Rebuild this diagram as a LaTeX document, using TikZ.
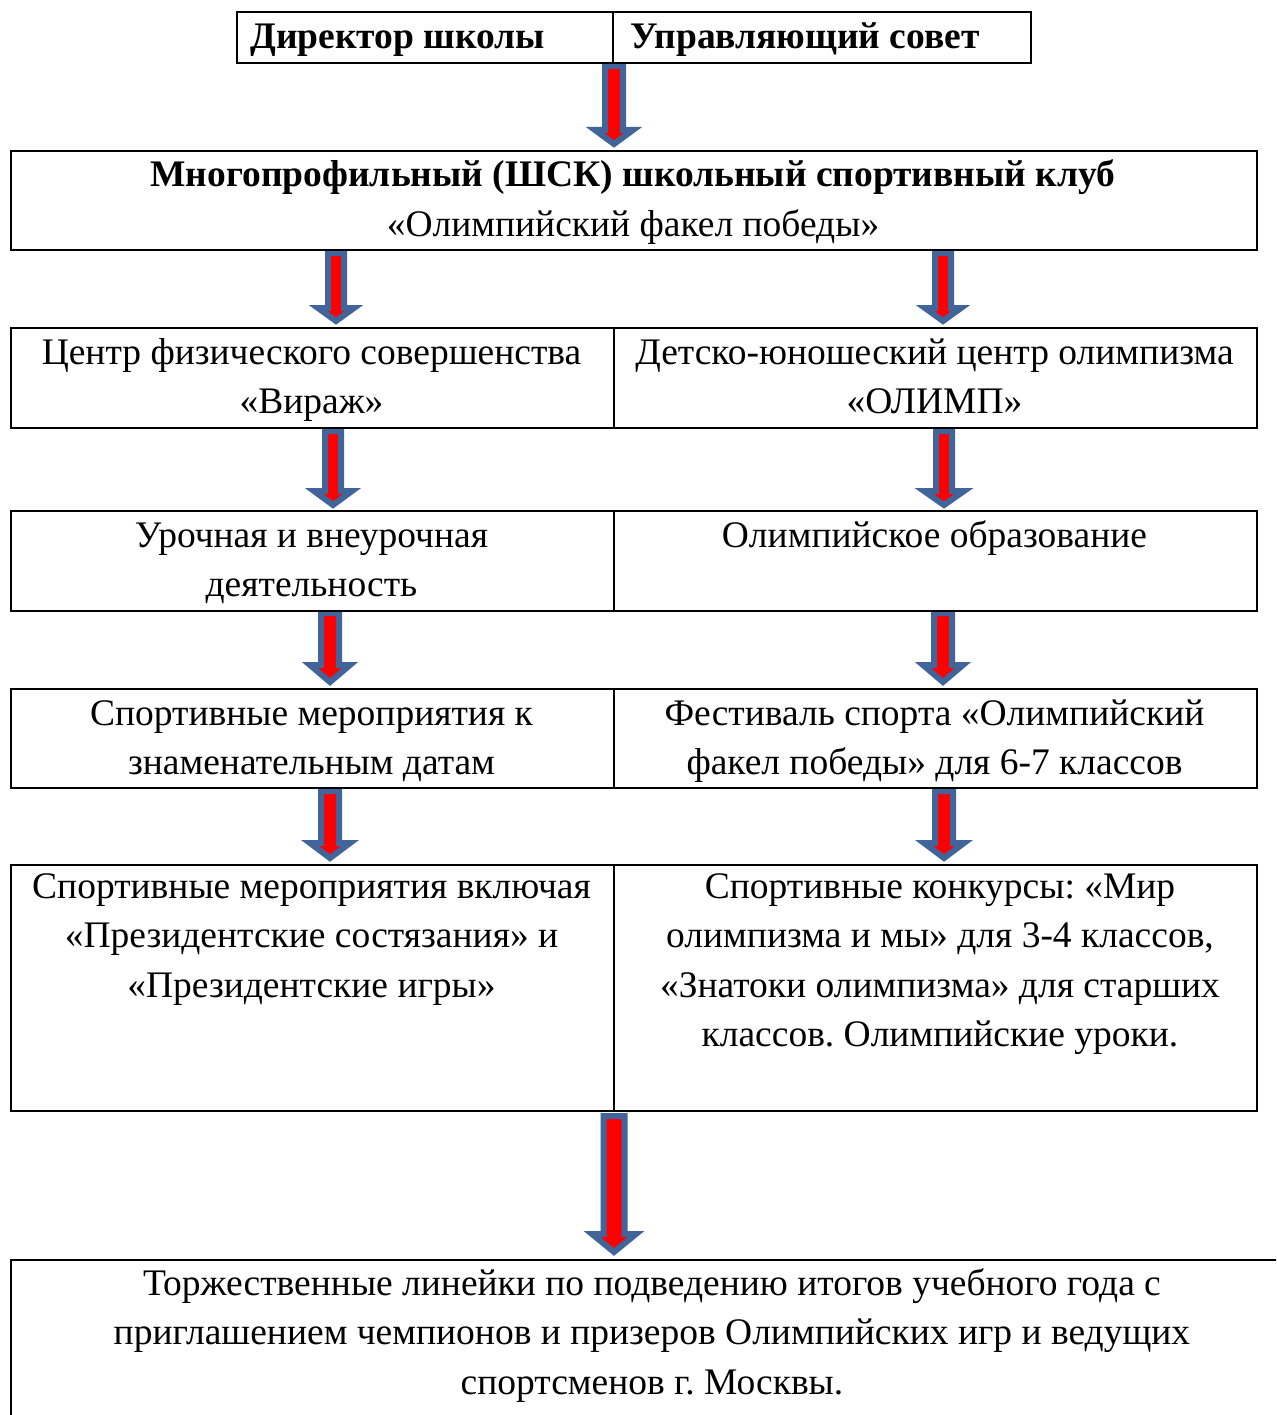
\documentclass[tikz,border=0pt]{standalone}
\usepackage{fontspec}
\setmainfont{Liberation Serif}
\frenchspacing
\definecolor{arrblue}{HTML}{41659A}
\definecolor{arrred}{HTML}{FF0000}
\newcommand\blkarrow[6]{% cx, top, headstart, tip, shafthalf, headhalf (outer)
  \draw[blkarr] ({#1-#5+3},{#2+3}) -- ({#1+#5-3},{#2+3}) -- ({#1+#5-3},{#3+3}) -- ({#1+#6-5},{#3+3}) -- (#1,{#4-5}) -- ({#1-#6+5},{#3+3}) -- ({#1-#5+3},{#3+3}) -- cycle;}
\begin{document}
\begin{tikzpicture}[x=1pt,y=-1pt,
  cell/.style={draw,line width=2pt,inner sep=0pt,anchor=north west},
  txt/.style={font=\fontsize{37.5}{49.5}\selectfont,align=center,anchor=base,inner sep=0pt},
  btxt/.style={font=\bfseries\fontsize{37.5}{49.5}\selectfont,inner sep=0pt,anchor=base},
  blkarr/.style={fill=arrred,draw=arrblue,line width=6pt,line join=miter,miter limit=10}]
\clip (0,0) rectangle (1276,1415);
\fill[white] (0,0) rectangle (1276,1415);
% arrows
\blkarrow{614}{63}{127}{149}{12}{24}
\blkarrow{336}{250}{305}{326}{11}{23}
\blkarrow{943}{250}{305}{326}{11}{23}
\blkarrow{333}{428}{488}{510}{11}{24}
\blkarrow{944}{428}{488}{510}{11}{25}
\blkarrow{330}{610}{662}{687}{12}{25}
\blkarrow{943}{610}{662}{687}{12}{25}
\blkarrow{330}{788}{840}{863}{12}{25}
\blkarrow{944}{788}{840}{863}{12}{25}
\blkarrow{614}{1113}{1231}{1257}{13.5}{27}
% top
\node[cell,minimum width=376,minimum height=51] (dir) at (236,11) {};
\node[cell,minimum width=418,minimum height=51] (sov) at (612,11) {};
\node[btxt,anchor=base west] (tdir) at (250,49) {Директор школы};
\node[btxt,anchor=base west] (tsov) at (630,49) {Управляющий совет};
% club
\node[cell,minimum width=1246,minimum height=99] (club) at (10,150) {};
\node[txt] (tclub) at (633,236.5) {\textbf{Многопрофильный (ШСК) школьный спортивный клуб}\\«Олимпийский факел победы»};
% row 1
\node[cell,minimum width=603,minimum height=100] (l1) at (10,327) {};
\node[cell,minimum width=643,minimum height=100] (r1) at (613,327) {};
\node[txt] (tl1) at (311.5,413.5) {Центр физического совершенства\\«Вираж»};
\node[txt] (tr1) at (934.5,413.5) {Детско-юношеский центр олимпизма\\«ОЛИМП»};
% row 2
\node[cell,minimum width=603,minimum height=100] (l2) at (10,510) {};
\node[cell,minimum width=643,minimum height=100] (r2) at (613,510) {};
\node[txt] (tl2) at (311.5,596.5) {Урочная и внеурочная\\деятельность};
\node[txt] (tr2) at (934.5,547) {Олимпийское образование};
% row 3
\node[cell,minimum width=603,minimum height=99] (l3) at (10,688) {};
\node[cell,minimum width=643,minimum height=99] (r3) at (613,688) {};
\node[txt] (tl3) at (311.5,774.5) {Спортивные мероприятия к\\знаменательным датам};
\node[txt] (tr3) at (934.5,774.5) {Фестиваль спорта «Олимпийский\\факел победы» для 6-7 классов};
% row 4
\node[cell,minimum width=603,minimum height=246] (l4) at (10,864) {};
\node[cell,minimum width=643,minimum height=246] (r4) at (613,864) {};
\node[txt] (tl4) at (311.5,997) {Спортивные мероприятия включая\\«Президентские состязания» и\\«Президентские игры»};
\node[txt] (tr4) at (940,1046.5) {Спортивные конкурсы: «Мир\\олимпизма и мы» для 3-4 классов,\\«Знатоки олимпизма» для старших\\классов. Олимпийские уроки.};
% bottom
\node[cell,minimum width=1298,minimum height=200] (fin) at (10,1259) {};
\node[txt] (tfin) at (652,1394) {Торжественные линейки по подведению итогов учебного года с\\приглашением чемпионов и призеров Олимпийских игр и ведущих\\спортсменов г. Москвы.};
\end{tikzpicture}
\end{document}
